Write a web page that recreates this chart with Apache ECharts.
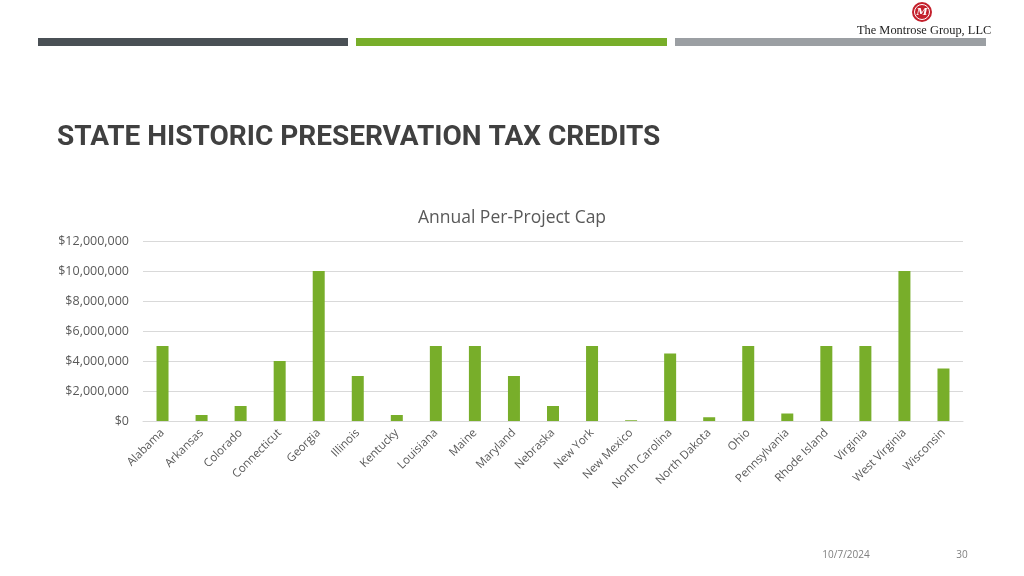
<!DOCTYPE html>
<html>
<head>
<meta charset="utf-8">
<script src="https://cdn.jsdelivr.net/npm/echarts@6/dist/echarts.min.js"></script>
<style>
html,body{margin:0;padding:0;background:#fff;}
#chart{width:1024px;height:576px;}
</style>
</head>
<body>
<div id="chart"></div>
<script>
const states = ["Alabama","Arkansas","Colorado","Connecticut","Georgia","Illinois","Kentucky","Louisiana","Maine","Maryland","Nebraska","New York","New Mexico","North Carolina","North Dakota","Ohio","Pennsylvania","Rhode Island","Virginia","West Virginia","Wisconsin"];
const caps = [5000000,400000,1000000,4000000,10000000,3000000,400000,5000000,5000000,3000000,1000000,5000000,50000,4500000,250000,5000000,500000,5000000,5000000,10000000,3500000];
const chartTitle = "Annual Per-Project Cap";
const slideTitle = "STATE HISTORIC PRESERVATION TAX CREDITS";
const footerDate = "10/7/2024";
const pageNum = "30";
const company = "The Montrose Group, LLC";

const chart = echarts.init(document.getElementById('chart'), null, {renderer:'canvas'});
const fmt = v => '$' + v.toLocaleString('en-US');
chart.setOption({
  animation:false,
  backgroundColor:'#ffffff',
  title:{text:chartTitle,left:'center',top:204,
    textStyle:{fontFamily:'Open Sans',fontWeight:'normal',fontSize:17.5,color:'#595959'}},
  grid:{left:143,right:61,top:241,bottom:155},
  xAxis:{type:'category',data:states,
    axisLine:{lineStyle:{color:'#d9d9d9'}},
    axisTick:{show:false},
    axisLabel:{rotate:45,interval:0,fontFamily:'Open Sans',fontSize:11.5,color:'#595959',margin:10}},
  yAxis:{type:'value',min:0,max:12000000,interval:2000000,
    axisLine:{show:false},axisTick:{show:false},
    splitLine:{lineStyle:{color:'#d9d9d9'}},
    axisLabel:{formatter:fmt,fontFamily:'Open Sans',fontSize:12.5,color:'#595959',margin:14}},
  series:[{type:'bar',data:caps,barWidth:12,itemStyle:{color:'#78ae2a'}}],
  graphic:[
    {type:'rect',shape:{x:38,y:38,width:310,height:8},style:{fill:'#4a5055'}},
    {type:'rect',shape:{x:356,y:38,width:311,height:8},style:{fill:'#78ae2a'}},
    {type:'rect',shape:{x:675,y:38,width:311,height:8},style:{fill:'#9b9fa3'}},
    {type:'circle',shape:{cx:922,cy:12,r:10},style:{fill:'#c4202c'}},
    {type:'circle',shape:{cx:922,cy:12,r:7.5},style:{fill:'none',stroke:'#ffffff',lineWidth:1}},
    {type:'text',x:922,y:12,style:{text:'M',fill:'#ffffff',font:'italic bold 10px "DejaVu Serif"',align:'center',verticalAlign:'middle'}},
    {type:'text',x:857,y:31,style:{text:company,fill:'#222222',font:'12.4px "Liberation Serif"',verticalAlign:'middle'}},
    {type:'text',x:57,y:138,style:{text:slideTitle,fill:'#404040',font:'bold 28px "Roboto"',verticalAlign:'middle'}},
    {type:'text',x:846,y:555,style:{text:footerDate,fill:'#7f7f7f',font:'10px "Open Sans"',align:'center',verticalAlign:'middle'}},
    {type:'text',x:962,y:555,style:{text:pageNum,fill:'#7f7f7f',font:'10px "Open Sans"',align:'center',verticalAlign:'middle'}}
  ]
});
</script>
</body>
</html>
